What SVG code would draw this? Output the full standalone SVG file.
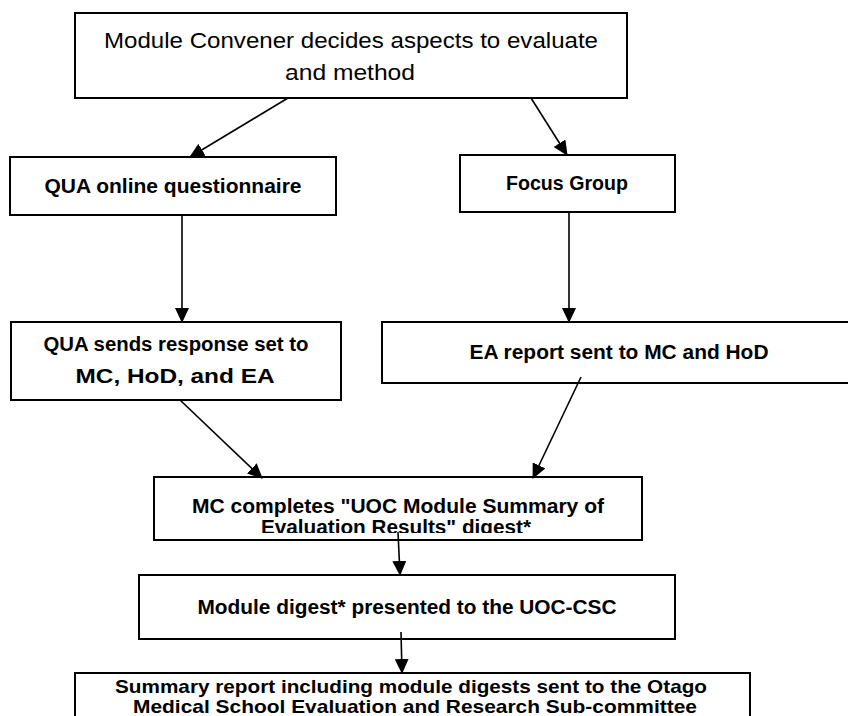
<svg xmlns="http://www.w3.org/2000/svg" width="848" height="716" viewBox="0 0 848 716">
<style>
.box{fill:#fff;stroke:#000;stroke-width:2}
.t{font-family:"Liberation Sans",Arial,sans-serif;font-size:22px;fill:#000;text-anchor:middle}
.b{font-family:"Liberation Sans",Arial,sans-serif;font-size:20px;font-weight:bold;fill:#000;text-anchor:middle}
.s{font-size:18.5px}
.c{stroke:#000;stroke-width:1.6;fill:none;marker-end:url(#ah)}
</style>
<defs>
<marker id="ah" markerUnits="userSpaceOnUse" markerWidth="15" markerHeight="14" refX="14" refY="7" orient="auto" viewBox="0 0 15 14">
<path d="M0,0 L15,7 L0,14 z" fill="#000"/>
</marker>
<clipPath id="mcclip"><rect x="155" y="478" width="486" height="55"/></clipPath>
</defs>
<g id="n-top">
<rect class="box" x="75" y="13" width="552" height="85"/>
<text class="t" x="351" y="48" textLength="494" lengthAdjust="spacingAndGlyphs">Module Convener decides aspects to evaluate</text>
<text class="t" x="350" y="80" textLength="130" lengthAdjust="spacingAndGlyphs">and method</text>
</g>
<g id="n-quaonline">
<rect class="box" x="10" y="157" width="326" height="58"/>
<text class="b" x="173" y="193" textLength="257" lengthAdjust="spacingAndGlyphs">QUA online questionnaire</text>
</g>
<g id="n-focus">
<rect class="box" x="460" y="155" width="215" height="57"/>
<text class="b" x="567" y="190" textLength="122" lengthAdjust="spacingAndGlyphs">Focus Group</text>
</g>
<g id="n-quasends">
<rect class="box" x="11" y="322" width="330" height="78"/>
<text class="b" x="176" y="351" textLength="265" lengthAdjust="spacingAndGlyphs">QUA sends response set to</text>
<text class="b" x="175" y="383" textLength="199" lengthAdjust="spacingAndGlyphs">MC, HoD, and EA</text>
</g>
<g id="n-ea">
<rect class="box" x="382" y="322" width="480" height="61"/>
<text class="b" x="619" y="359" textLength="299" lengthAdjust="spacingAndGlyphs">EA report sent to MC and HoD</text>
</g>
<g id="n-mc">
<rect class="box" x="154" y="477" width="488" height="63"/>
<g clip-path="url(#mcclip)">
<text class="b" x="398" y="513" textLength="412" lengthAdjust="spacingAndGlyphs">MC completes "UOC Module Summary of</text>
<text class="b" x="396" y="534" textLength="270" lengthAdjust="spacingAndGlyphs">Evaluation Results" digest*</text>
</g>
</g>
<g id="n-digest">
<rect class="box" x="139" y="575" width="536" height="64"/>
<text class="b" x="407" y="614" textLength="419" lengthAdjust="spacingAndGlyphs">Module digest* presented to the UOC-CSC</text>
</g>
<g id="n-summary">
<rect class="box" x="75" y="673" width="675" height="60"/>
<text class="b s" x="411" y="693" textLength="592" lengthAdjust="spacingAndGlyphs">Summary report including module digests sent to the Otago</text>
<text class="b s" x="415" y="713" textLength="564" lengthAdjust="spacingAndGlyphs">Medical School Evaluation and Research Sub-committee</text>
</g>
<g id="connectors">
<line class="c" x1="288" y1="98" x2="190" y2="157"/>
<line class="c" x1="531" y1="98" x2="567" y2="155"/>
<line class="c" x1="182" y1="215" x2="182" y2="322"/>
<line class="c" x1="569" y1="212" x2="569" y2="322"/>
<line class="c" x1="180" y1="400" x2="262" y2="478"/>
<line class="c" x1="581" y1="377" x2="533" y2="478"/>
<line class="c" x1="398" y1="532" x2="400" y2="575"/>
<line class="c" x1="401" y1="632" x2="402" y2="673"/>
</g>
</svg>
